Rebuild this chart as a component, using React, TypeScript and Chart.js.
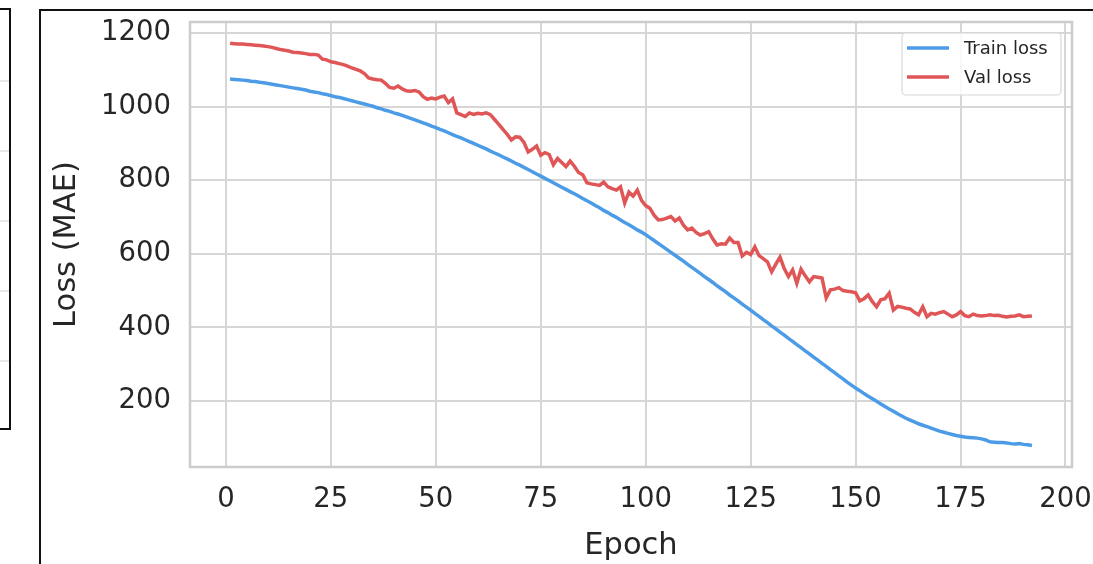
import React, { useEffect, useRef } from "react";
import { Chart, registerables } from "chart.js";

Chart.register(...registerables);

const trainLoss: number[] = [
  1075, 1074, 1073, 1072, 1071, 1069, 1068, 1066, 1065, 1063,
  1061, 1059, 1057, 1055, 1053, 1051, 1049, 1047, 1045, 1042,
  1040, 1038, 1035, 1033, 1030, 1027, 1025, 1022, 1019, 1016,
  1013, 1010, 1007, 1004, 1001, 997, 994, 990, 987, 983,
  980, 976, 972, 968, 964, 960, 956, 952, 947, 943,
  938, 934, 929, 924, 919, 915, 910, 905, 900, 895,
  890, 885, 879, 874, 869, 863, 858, 852, 846, 841,
  835, 829, 823, 817, 811, 805, 799, 793, 787, 781,
  775, 769, 763, 757, 750, 744, 738, 731, 725, 718,
  712, 705, 699, 692, 685, 679, 672, 665, 659, 652,
  644, 636, 628, 620, 612, 604, 596, 588, 580, 571,
  563, 555, 547, 538, 530, 522, 513, 505, 497, 488,
  480, 472, 463, 455, 447, 438, 430, 421, 413, 404,
  396, 387, 379, 370, 362, 353, 345, 336, 328, 319,
  311, 302, 294, 285, 277, 268, 260, 251, 243, 235,
  228, 220, 213, 206, 199, 192, 185, 178, 172, 165,
  159, 153, 148, 143, 138, 134, 130, 126, 122, 118,
  115, 112, 109, 106, 104, 102, 101, 100, 99, 97,
  94, 89, 88, 87, 87, 86, 84, 83, 84, 82,
  81, 79,
];

const valLoss: number[] = [
  1172, 1171, 1170, 1170, 1169, 1168, 1167, 1166, 1165, 1163,
  1161, 1158, 1155, 1153, 1151, 1148, 1147, 1146, 1144, 1142,
  1142, 1140, 1129, 1127, 1122, 1120, 1117, 1114, 1110, 1105,
  1101, 1097, 1090, 1078, 1075, 1073, 1072, 1063, 1052, 1050,
  1056, 1048, 1043, 1042, 1044, 1040, 1027, 1020, 1023, 1021,
  1026, 1029, 1011, 1021, 983, 978, 973, 983, 979, 982,
  980, 983, 978, 965, 952, 938, 925, 909, 918, 917,
  903, 877, 884, 893, 868, 875, 870, 842, 859, 848,
  837, 852, 838, 821, 815, 793, 790, 788, 786, 795,
  782, 777, 773, 782, 738, 768, 757, 773, 745, 731,
  724, 705, 692, 693, 697, 701, 689, 697, 678, 665,
  670, 658, 651, 655, 660, 640, 624, 627, 626, 643,
  631, 631, 594, 604, 598, 619, 595, 587, 578, 551,
  572, 591, 560, 538, 556, 520, 558, 540, 524, 538,
  536, 534, 480, 502, 504, 508, 500, 498, 497, 494,
  472, 478, 488, 470, 456, 475, 478, 493, 447, 457,
  455, 452, 450, 441, 434, 456, 429, 438, 436, 440,
  443, 436, 429, 434, 443, 432, 429, 436, 432, 431,
  432, 434, 432, 433, 430, 428, 430, 431, 434, 429,
  430, 431,
];

const xTicks: number[] = [0, 25, 50, 75, 100, 125, 150, 175, 200];
const yTicks: number[] = [200, 400, 600, 800, 1000, 1200];
const seriesLabels: string[] = ["Train loss", "Val loss"];
const seriesColors: string[] = ["#4c9be6", "#e05555"];

const FONT = "'DejaVu Sans', sans-serif";
const TEXT = "#262626";

const spinePlugin = {
  id: "spines",
  beforeDatasetsDraw(chart: any) {
    const { ctx, chartArea: a } = chart;
    ctx.save();
    ctx.strokeStyle = "#cccccc";
    ctx.lineWidth = 2.5;
    ctx.strokeRect(a.left, a.top, a.right - a.left, a.bottom - a.top);
    ctx.restore();
  },
};

const legendPlugin = {
  id: "boxLegend",
  afterDraw(chart: any) {
    const { ctx, chartArea: a } = chart;
    const w = 159;
    const h = 62;
    const x0 = a.right - 11 - w;
    const y0 = a.top + 11;
    ctx.save();
    ctx.beginPath();
    ctx.roundRect(x0, y0, w, h, 4);
    ctx.fillStyle = "rgba(255,255,255,0.85)";
    ctx.fill();
    ctx.strokeStyle = "#d8d8d8";
    ctx.lineWidth = 1.2;
    ctx.stroke();
    ctx.font = `18px ${FONT}`;
    ctx.textBaseline = "middle";
    ctx.textAlign = "left";
    chart.data.datasets.forEach((ds: any, i: number) => {
      const y = y0 + 15 + i * 29;
      ctx.beginPath();
      ctx.strokeStyle = ds.borderColor;
      ctx.lineWidth = 3.5;
      ctx.moveTo(x0 + 5, y);
      ctx.lineTo(x0 + 47, y);
      ctx.stroke();
      ctx.fillStyle = TEXT;
      ctx.fillText(ds.label, x0 + 62, y + 1);
    });
    ctx.restore();
  },
};

const zeroPad = (s: any) => {
  s.paddingTop = 0;
  s.paddingBottom = 0;
  s.paddingLeft = 0;
  s.paddingRight = 0;
};

export default function App() {
  const ref = useRef<HTMLCanvasElement | null>(null);

  useEffect(() => {
    document.body.style.margin = "0";
    if (!ref.current) return;
    const chart = new Chart(ref.current, {
      type: "line",
      data: {
        datasets: [trainLoss, valLoss].map((vals, k) => ({
          label: seriesLabels[k],
          data: vals.map((v, i) => ({ x: i + 1, y: v })),
          borderColor: seriesColors[k],
          backgroundColor: seriesColors[k],
          borderWidth: 3.5,
          pointRadius: 0,
          tension: 0,
          fill: false,
        })),
      },
      options: {
        animation: false,
        responsive: false,
        devicePixelRatio: 1,
        layout: { padding: { left: 40, right: 21, top: 22, bottom: 0 } },
        plugins: { legend: { display: false }, tooltip: { enabled: false } },
        scales: {
          x: {
            type: "linear",
            min: -8.55,
            max: 201.55,
            afterBuildTicks: (s: any) => {
              s.ticks = xTicks.map((v) => ({ value: v }));
            },
            afterFit: (s: any) => {
              s.height = 97;
              zeroPad(s);
            },
            grid: { color: "#d6d6d6", lineWidth: 2, drawTicks: false },
            border: { display: false },
            ticks: {
              padding: 16,
              color: TEXT,
              font: { family: FONT, size: 27.5 },
              maxRotation: 0,
              autoSkip: false,
              callback: (v: any) => String(v),
            },
            title: {
              display: true,
              text: "Epoch",
              color: TEXT,
              font: { family: FONT, size: 30.5 },
              padding: { top: 0, bottom: 0 },
            },
          },
          y: {
            type: "linear",
            min: 20.5,
            max: 1230,
            afterBuildTicks: (s: any) => {
              s.ticks = yTicks.map((v) => ({ value: v }));
            },
            afterFit: (s: any) => {
              s.width = 150;
              zeroPad(s);
            },
            grid: { color: "#d6d6d6", lineWidth: 2, drawTicks: false },
            border: { display: false },
            ticks: {
              padding: 19,
              color: TEXT,
              font: { family: FONT, size: 27.5 },
              autoSkip: false,
              callback: (v: any) => String(v),
            },
            title: {
              display: true,
              text: "Loss (MAE)",
              color: TEXT,
              font: { family: FONT, size: 30.5 },
              padding: { top: 9, bottom: 0 },
            },
          },
        },
      },
      plugins: [spinePlugin, legendPlugin],
    });
    return () => chart.destroy();
  }, []);

  const grayLines = [80, 150, 220, 290, 360];

  return (
    <div
      style={{
        position: "fixed",
        left: 0,
        top: 0,
        width: 1093,
        height: 564,
        overflow: "hidden",
        background: "#ffffff",
      }}
    >
      <div
        style={{
          position: "absolute",
          left: -30,
          top: 8,
          width: 37,
          height: 418,
          border: "2px solid #111",
          background: "#fff",
        }}
      >
        {grayLines.map((y) => (
          <div
            key={y}
            style={{
              position: "absolute",
              left: 0,
              right: 0,
              top: y - 10,
              height: 2,
              background: "#e8e8e8",
            }}
          />
        ))}
      </div>
      <div
        style={{
          position: "absolute",
          left: 39,
          top: 9,
          width: 1100,
          height: 600,
          borderLeft: "2px solid #111",
          borderTop: "2px solid #111",
        }}
      />
      <canvas
        ref={ref}
        width={1093}
        height={564}
        style={{ position: "absolute", left: 0, top: 0, width: 1093, height: 564 }}
      />
    </div>
  );
}
